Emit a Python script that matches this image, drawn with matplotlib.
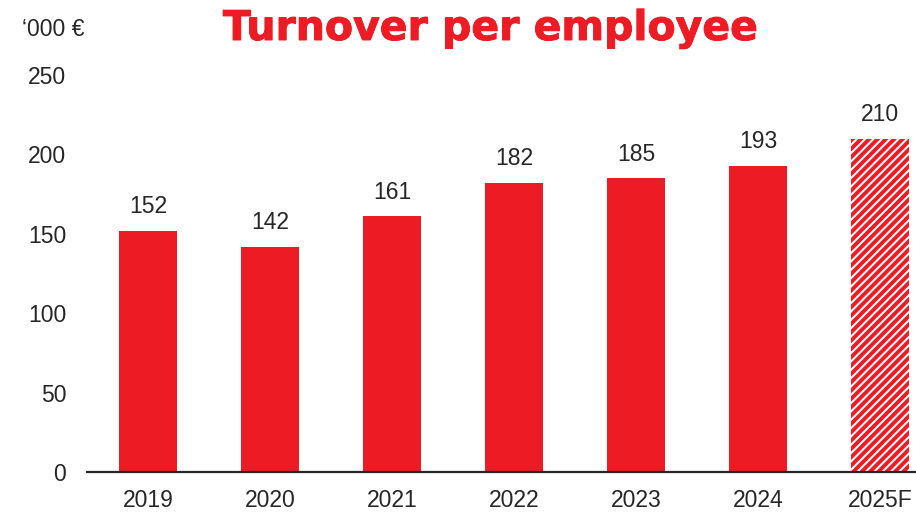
import matplotlib
matplotlib.use("Agg")
import matplotlib.pyplot as plt
import matplotlib.patheffects as pe

categories = ["2019", "2020", "2021", "2022", "2023", "2024", "2025F"]
values = [152, 142, 161, 182, 185, 193, 210]
forecast = [False, False, False, False, False, False, True]
yticks = [0, 50, 100, 150, 200, 250]

RED = "#ED1C24"
DARK = "#262626"

plt.rcParams['font.family'] = ['Liberation Sans', 'DejaVu Sans']
plt.rcParams['hatch.linewidth'] = 2.8
plt.rcParams['hatch.color'] = RED

fig = plt.figure(figsize=(9.16, 5.12), dpi=100)
ax = fig.add_axes([87/916, 40/512, 1 - 87/916, 397/512])

x = list(range(len(categories)))
for xi, v, f in zip(x, values, forecast):
    if f:
        ax.bar(xi, v, width=0.475, color="white", edgecolor=RED, hatch="////", linewidth=0)
    else:
        ax.bar(xi, v, width=0.475, color=RED, linewidth=0)
    ax.annotate(str(v), (xi, v), xytext=(0, 9), textcoords="offset points",
                ha="center", va="bottom", fontsize=16.5, color=DARK)

ax.set_xlim(-0.5, (916 - 148) / 122)
ax.set_ylim(0, 250)
ax.set_xticks(x)
ax.set_xticklabels(categories)
ax.set_yticks(yticks)
ax.tick_params(axis="both", length=0, labelsize=16.5, labelcolor=DARK)
ax.tick_params(axis="y", pad=15)
ax.tick_params(axis="x", pad=12)
for s in ["top", "right", "left"]:
    ax.spines[s].set_visible(False)
ax.spines["bottom"].set_color(DARK)
ax.spines["bottom"].set_linewidth(1.6)

t = fig.text(491/916, 1 - 40/512, "Turnover per employee", ha="center", va="baseline",
             fontsize=29.5, fontweight="bold", color=RED, family="DejaVu Sans")
t.set_path_effects([pe.withStroke(linewidth=0.7, foreground=RED)])
fig.text(22/916, 1 - 30/512, "\u2018000 \u20ac", ha="left", va="center",
         fontsize=16.5, color=DARK)

fig.savefig("out.png", dpi=100)
